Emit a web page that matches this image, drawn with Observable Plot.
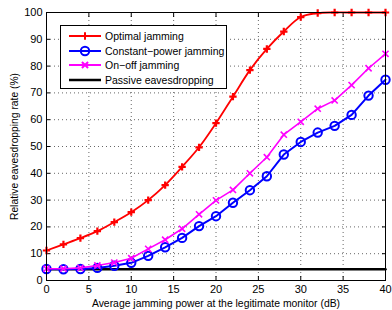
<!DOCTYPE html>
<html>
<head>
<meta charset="utf-8">
<script src="https://cdn.jsdelivr.net/npm/d3@7"></script>
<script src="https://cdn.jsdelivr.net/npm/@observablehq/plot@0.6"></script>
<style>
  html, body { margin: 0; padding: 0; background: #fff; }
  #wrap { position: relative; width: 392px; height: 310px; font-family: "Liberation Sans", Arial, sans-serif; }
  #legend { position: absolute; left: 60px; top: 25px; width: 167px; height: 64px; border: 1px solid #000; background: #fff; box-sizing: border-box; font-size: 10.5px; }
  .row { position: absolute; left: 0; height: 14px; display: flex; align-items: center; white-space: nowrap; }
  .row svg { margin-left: 8px; margin-right: 4px; flex: none; }
</style>
</head>
<body>
<div id="wrap"></div>
<script>
const xs = [0, 2, 4, 6, 8, 10, 12, 14, 16, 18, 20, 22, 24, 26, 28, 30, 32, 34, 36, 38, 40];
const optimal = [11.2, 13.5, 15.8, 18.4, 21.8, 25.5, 30.0, 35.6, 42.4, 49.7, 58.7, 68.6, 78.5, 86.4, 92.9, 98.3, 99.8, 100, 100, 100, 100];
const constant = [4.3, 4.2, 4.3, 4.7, 5.5, 6.6, 9.2, 12.4, 15.9, 20.3, 24.0, 29.0, 33.7, 38.9, 47.0, 51.7, 55.2, 57.7, 61.8, 69.0, 74.9];
const onoff = [4.4, 4.4, 4.7, 5.6, 6.7, 8.3, 11.8, 15.2, 19.3, 24.7, 29.9, 33.8, 40.0, 46.0, 54.4, 59.2, 64.1, 67.2, 72.9, 79.2, 84.6];
const passive = [4.2, 4.2];
const passiveX = [0, 40];
const xTicks = [0, 5, 10, 15, 20, 25, 30, 35, 40];
const yTicks = [0, 10, 20, 30, 40, 50, 60, 70, 80, 90, 100];
const seriesNames = ["Optimal jamming", "Constant\u2212power jamming", "On\u2212off jamming", "Passive eavesdropping"];

const opt = xs.map((x, i) => ({x, y: optimal[i]}));
const con = xs.map((x, i) => ({x, y: constant[i]}));
const onf = xs.map((x, i) => ({x, y: onoff[i]}));
const pas = passiveX.map((x, i) => ({x, y: passive[i]}));

const rPlus = 2.5, rCircle = 4.2, rTimes = 2.9;
const blank = () => "";
const chart = Plot.plot({
  width: 392,
  height: 310,
  marginLeft: 46,
  marginRight: 7,
  marginTop: 12,
  marginBottom: 30,
  style: {fontFamily: "Liberation Sans, Arial, sans-serif", fontSize: "11px", background: "#fff", color: "#000"},
  x: {domain: [0, 40], ticks: xTicks},
  y: {domain: [0, 100], ticks: yTicks},
  marks: [
    Plot.gridX(xTicks, {stroke: "#000", strokeOpacity: 0.6, strokeDasharray: "1,3"}),
    Plot.gridY(yTicks, {stroke: "#000", strokeOpacity: 0.6, strokeDasharray: "1,3"}),
    Plot.axisX(xTicks, {anchor: "bottom", tickSize: 0, tickPadding: 5, fontSize: 11, label: null}),
    Plot.axisX({anchor: "bottom", ticks: [], fontSize: 10.4, label: "Average jamming power at the legitimate monitor (dB)", labelAnchor: "center", labelArrow: "none", labelOffset: 26}),
    Plot.axisX(xTicks, {anchor: "bottom", tickSize: -4, tickFormat: blank, label: null}),
    Plot.axisX(xTicks, {anchor: "top", tickSize: -4, tickFormat: blank, label: null}),
    Plot.axisY(yTicks, {anchor: "left", tickSize: 0, tickPadding: 4, fontSize: 11, label: null}),
    Plot.axisY({anchor: "left", ticks: [], fontSize: 10.3, label: "Relative eavesdropping rate (%)", labelAnchor: "center", labelArrow: "none", labelOffset: 36}),
    Plot.axisY(yTicks, {anchor: "left", tickSize: -4, tickFormat: blank, label: null}),
    Plot.axisY(yTicks, {anchor: "right", tickSize: -4, tickFormat: blank, label: null}),
    Plot.line(pas, {x: "x", y: "y", stroke: "#000", strokeWidth: 2.5}),
    Plot.line(opt, {x: "x", y: "y", stroke: "#ff0000", strokeWidth: 1.8, curve: "catmull-rom"}),
    Plot.dot(opt, {x: "x", y: "y", symbol: "plus", r: rPlus, stroke: "#ff0000", strokeWidth: 2.2}),
    Plot.line(con, {x: "x", y: "y", stroke: "#0000ff", strokeWidth: 2}),
    Plot.dot(con, {x: "x", y: "y", symbol: "circle", r: rCircle, stroke: "#0000ff", strokeWidth: 2, fill: "none"}),
    Plot.line(onf, {x: "x", y: "y", stroke: "#ff00ff", strokeWidth: 1.6}),
    Plot.dot(onf, {x: "x", y: "y", symbol: "times", r: rTimes, stroke: "#ff00ff", strokeWidth: 1.6}),
    Plot.frame({stroke: "#000", strokeWidth: 1})
  ]
});
const wrap = document.getElementById("wrap");
wrap.appendChild(chart);

// Legend
const legend = document.createElement("div");
legend.id = "legend";
const colors = ["#ff0000", "#0000ff", "#ff00ff", "#000000"];
const markers = ["plus", "circle", "times", null];
const tops = [3, 18, 32, 47];
seriesNames.forEach((name, i) => {
  const row = document.createElement("div");
  row.className = "row";
  row.style.top = tops[i] + "px";
  const ns = "http://www.w3.org/2000/svg";
  const s = document.createElementNS(ns, "svg");
  s.setAttribute("width", 32); s.setAttribute("height", 12);
  const ln = document.createElementNS(ns, "line");
  ln.setAttribute("x1", 0); ln.setAttribute("x2", 32); ln.setAttribute("y1", 6); ln.setAttribute("y2", 6);
  ln.setAttribute("stroke", colors[i]); ln.setAttribute("stroke-width", i === 3 ? 2.5 : 2);
  s.appendChild(ln);
  if (markers[i]) {
    const p = document.createElementNS(ns, "path");
    const sym = markers[i] === "plus" ? d3.symbolPlus : markers[i] === "circle" ? d3.symbolCircle : d3.symbolTimes;
    const rr = markers[i] === "plus" ? rPlus : markers[i] === "circle" ? rCircle : rTimes;
    p.setAttribute("d", d3.symbol(sym, Math.PI * rr * rr)());
    p.setAttribute("transform", "translate(16,6)");
    p.setAttribute("stroke", colors[i]); p.setAttribute("stroke-width", 2); p.setAttribute("fill", "none");
    s.appendChild(p);
  }
  row.appendChild(s);
  const t = document.createElement("span");
  t.textContent = name;
  row.appendChild(t);
  legend.appendChild(row);
});
wrap.appendChild(legend);
</script>
</body>
</html>
